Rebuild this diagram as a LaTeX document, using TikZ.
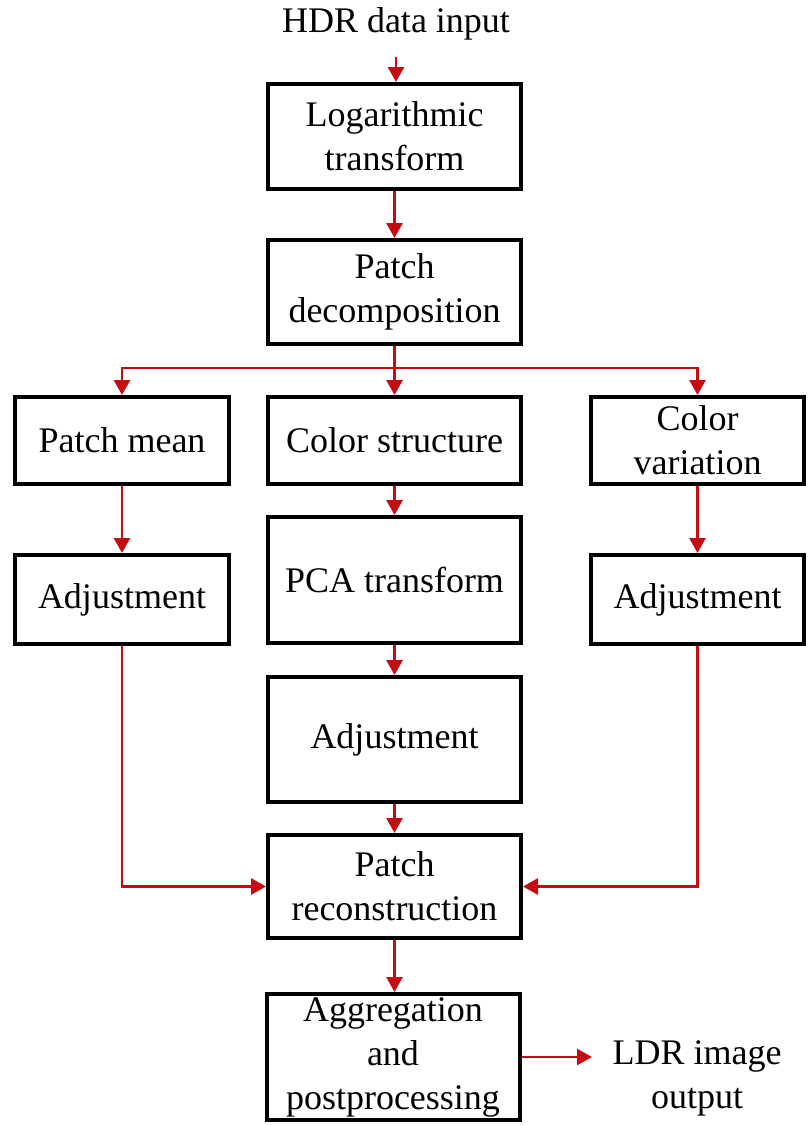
\documentclass[tikz,border=0pt]{standalone}
\usepackage{fontspec}
\setmainfont{Liberation Serif}
\usetikzlibrary{arrows.meta}
\definecolor{flowred}{RGB}{196,12,18}
\tikzset{
  stage/.style={draw=black, line width=4pt, fill=white, align=center,
    inner sep=0pt, font=\fontsize{36}{44}\selectfont},
  label/.style={align=center, inner sep=0pt, font=\fontsize{36}{44}\selectfont},
  flow/.style={draw=flowred, line width=2.8pt,
    -{Triangle[length=15pt,width=16pt]}},
  plain/.style={draw=flowred, line width=2.8pt}
}
\begin{document}
\begin{tikzpicture}[x=1pt, y=-1pt]
  \useasboundingbox (0,0) rectangle (807,1125);

  % input label and main column
  \node[label] (hdr) at (396,24) {HDR data input};
  \node[stage, minimum width=253pt, minimum height=105pt] (log) at (394.5,136.5) {Logarithmic\\transform};
  \node[stage, minimum width=253pt, minimum height=104pt] (dec) at (394.5,292) {Patch\\decomposition};

  % three branches
  \node[stage, minimum width=214pt, minimum height=87pt] (pmean) at (122,440.5) {Patch mean};
  \node[stage, minimum width=253pt, minimum height=87pt] (cstruct) at (394.5,440.5) {Color structure};
  \node[stage, minimum width=213pt, minimum height=87pt] (cvar) at (697.5,440.5) {Color\\variation};

  \node[stage, minimum width=214pt, minimum height=89pt] (adjL) at (122,599.5) {Adjustment};
  \node[stage, minimum width=253pt, minimum height=126pt] (pca) at (394.5,580) {PCA transform};
  \node[stage, minimum width=213pt, minimum height=89pt] (adjR) at (697.5,599.5) {Adjustment};
  \node[stage, minimum width=253pt, minimum height=125pt] (adjM) at (394.5,739.5) {Adjustment};

  % merge and output
  \node[stage, minimum width=253pt, minimum height=103pt] (recon) at (394.5,886.5) {Patch\\reconstruction};
  \node[stage, minimum width=253pt, minimum height=126pt] (agg) at (393,1057) {Aggregation\\and\\postprocessing};
  \node[label] (ldr) at (697,1078) {LDR image\\output};

  \coordinate (hdrfoot) at (396,57);
  \coordinate (split) at (394.5,368);
  \coordinate (outend) at (592,1057);

  % connectors
  \draw[flow] (hdrfoot) -- (hdrfoot |- log.north);
  \draw[flow] (log.south) -- (dec.north);
  \draw[plain] (dec.south) -- (split);
  \draw[flow] (split) -| (pmean.north);
  \draw[flow] (split) -- (cstruct.north);
  \draw[flow] (split) -| (cvar.north);
  \draw[flow] (pmean.south) -- (adjL.north);
  \draw[flow] (cstruct.south) -- (pca.north);
  \draw[flow] (cvar.south) -- (adjR.north);
  \draw[flow] (pca.south) -- (adjM.north);
  \draw[flow] (adjM.south) -- (recon.north);
  \draw[flow] (adjL.south) |- (recon.west);
  \draw[flow] (adjR.south) |- (recon.east);
  \draw[flow] (recon.south) -- (recon.south |- agg.north);
  \draw[flow] (agg.east |- outend) -- (outend);
\end{tikzpicture}
\end{document}
